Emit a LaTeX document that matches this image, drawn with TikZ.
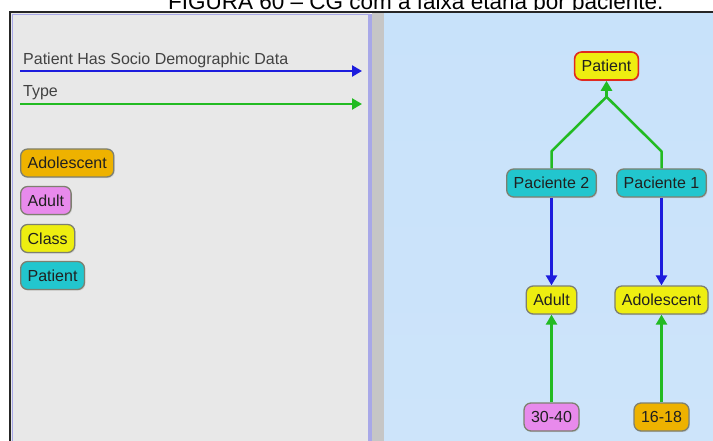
\documentclass[tikz,border=0pt]{standalone}
\usepackage{fontspec}
\setmainfont{Liberation Sans}
\usetikzlibrary{arrows.meta,shadows}

\definecolor{panelgray}{HTML}{E8E8E8}
\definecolor{panelline}{HTML}{A8A8E8}
\definecolor{splitgray}{HTML}{C6C6C6}
\definecolor{skytop}{HTML}{C8E2FA}
\definecolor{skymid}{HTML}{E0EDF8}
\definecolor{skybot}{HTML}{CDE4FA}
\definecolor{cyellow}{HTML}{EEEE10}
\definecolor{ccyan}{HTML}{22C6CE}
\definecolor{corange}{HTML}{EEB200}
\definecolor{cpink}{HTML}{E88AEC}
\definecolor{cborder}{HTML}{7E8070}
\definecolor{cred}{HTML}{E02A20}
\definecolor{ctext}{HTML}{202020}
\definecolor{lgreen}{HTML}{22BB22}
\definecolor{lblue}{HTML}{1C1CDD}

\begin{document}
\begin{tikzpicture}[x=1pt,y=-1pt,
  concept/.style={draw=cborder, line width=1.3pt, rounded corners=7pt,
    minimum height=28pt, inner xsep=7pt, inner ysep=2pt,
    font=\fontsize{16}{18}\selectfont, text=ctext,
    drop shadow={shadow xshift=1pt, shadow yshift=-1.2pt, opacity=0.2}},
  yellowc/.style={concept, fill=cyellow},
  cyanc/.style={concept, fill=ccyan},
  orangec/.style={concept, fill=corange},
  pinkc/.style={concept, fill=cpink},
  rootc/.style={concept, fill=cyellow, draw=cred, line width=1.6pt},
  typeline/.style={draw=lgreen, line width=2.5pt, -{Triangle[length=10pt,width=11pt]}},
  hasline/.style={draw=lblue, line width=2.5pt, -{Triangle[length=10pt,width=11pt]}},
  legendtext/.style={anchor=west, inner sep=0pt, text=ctext!85,
    font=\fontsize{16}{18}\selectfont},
  caption/.style={anchor=base west, inner sep=0pt, text=black,
    font=\fontsize{22.5}{26}\selectfont}]

\useasboundingbox (0,0) rectangle (713,441);
\begin{scope}
\clip (0,0) rectangle (713,441);
\fill[white] (0,0) rectangle (713,441);

% caption running above the window
\node[caption] (capt) at (168,10) {FIGURA 60 -- CG com a faixa etária por paciente.};
\fill[white] (0,10.5) rectangle (713,441);

% window panels
\fill[panelgray] (10,12) rectangle (370,441);
\shade[top color=skytop, middle color=skymid, bottom color=skybot]
  (384,12) rectangle (713,441);
\fill[splitgray] (372,12) rectangle (384,441);
\fill[panelline] (368,14) rectangle (372,441);
\draw[panelline, line width=1pt] (12.5,441) -- (12.5,14.5) -- (370,14.5);
\draw[black!85, line width=1.6pt] (10,441) -- (10,12) -- (713,12);
\end{scope}

% legend of link types
\node[legendtext] (lhas) at (23,60) {Patient Has Socio Demographic Data};
\coordinate (hasA) at (20,71);
\coordinate (hasB) at (362,71);
\draw[hasline] (hasA) -- (hasB);
\node[legendtext] (ltype) at (23,93) {Type};
\coordinate (typeA) at (20,104);
\coordinate (typeB) at (362,104);
\draw[typeline] (typeA) -- (typeB);

% legend of concept classes
\node[orangec, anchor=west] (kadol) at (20,163) {Adolescent};
\node[pinkc, anchor=west] (kadult) at (20,200.5) {Adult};
\node[yellowc, anchor=west] (kclass) at (20,238.5) {Class};
\node[cyanc, anchor=west] (kpat) at (20,275.5) {Patient};

% concept map
\node[rootc] (patient) at (606.5,66) {Patient};
\node[cyanc] (pac2) at (551.5,183) {Paciente 2};
\node[cyanc] (pac1) at (661.5,183) {Paciente 1};
\node[yellowc] (adult) at (551.5,300) {Adult};
\node[yellowc] (adol) at (661.5,300) {Adolescent};
\node[pinkc] (r3040) at (551.5,417) {30-40};
\node[orangec] (r1618) at (661.5,417) {16-18};

\coordinate (join) at ([yshift=-16pt]patient.south);
\draw[lgreen, line width=2.5pt, line join=round] (pac2.north) -- ++(0,-17) -- (join);
\draw[lgreen, line width=2.5pt, line join=round] (pac1.north) -- ++(0,-17) -- (join);
\draw[typeline] (join) -- (patient.south);

\draw[hasline] (pac2.south) -- (adult.north);
\draw[hasline] (pac1.south) -- (adol.north);
\draw[typeline] (r3040.north) -- (adult.south);
\draw[typeline] (r1618.north) -- (adol.south);
\end{tikzpicture}
\end{document}
